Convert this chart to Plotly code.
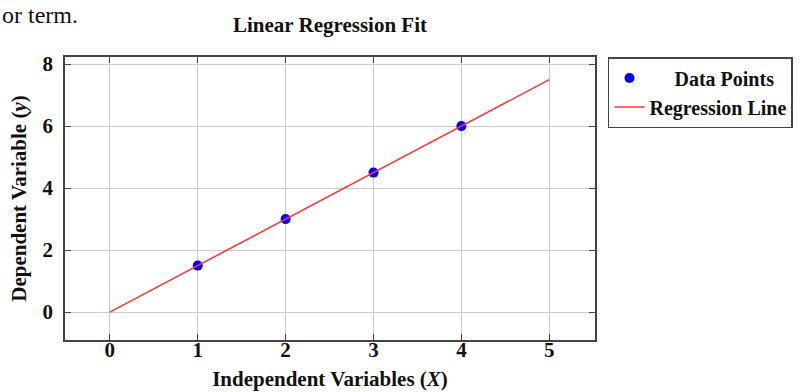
import plotly.graph_objects as go

x_points = [1, 2, 3, 4]
y_points = [1.5, 3.0, 4.5, 6.0]
x_line = [0, 5]
y_line = [0.0, 7.5]
x_ticks = [0, 1, 2, 3, 4, 5]
y_ticks = [0, 2, 4, 6, 8]

FONT = "Liberation Serif, Times New Roman, serif"
FS = 21

fig = go.Figure()
fig.add_trace(go.Scatter(
    x=x_points, y=y_points, mode="markers",
    name="&nbsp;&nbsp;&nbsp;&nbsp;&nbsp;<b>Data Points</b>",
    marker=dict(color="#0000ff", size=10, symbol="circle"),
))
fig.add_trace(go.Scatter(
    x=x_line, y=y_line, mode="lines", name="<b>Regression Line</b>",
    line=dict(color="#ff3333", width=1.5),
))

axis_common = dict(
    showgrid=True, gridcolor="#cccccc", gridwidth=1,
    showline=True, linecolor="#444444", linewidth=1.5, mirror="ticks",
    ticks="inside", ticklen=6, tickcolor="#444444", tickwidth=1,
    zeroline=False, automargin=False,
    tickfont=dict(family=FONT, size=FS, color="#111111", weight="bold"),
)

fig.update_layout(
    width=809, height=392,
    margin=dict(l=65, r=214, t=57, b=52),
    paper_bgcolor="white", plot_bgcolor="white",
    title=dict(text="<b>Linear Regression Fit</b>", x=(65 + 595) / 2 / 809, xanchor="center",
               y=1 - 25 / 392, yanchor="middle",
               font=dict(family=FONT, size=FS, color="#111111")),
    xaxis=dict(range=[-0.51, 5.52], tickvals=x_ticks, ticklabelstandoff=-10,
               title=dict(text="<b>Independent Variables (<i>X</i>)</b>", standoff=10,
                          font=dict(family=FONT, size=FS, color="#111111")),
               **axis_common),
    yaxis=dict(range=[-0.9, 8.23], tickvals=y_ticks, ticklabelstandoff=6,
               title=dict(text="<b>Dependent Variable (<i>y</i>)</b>", standoff=10,
                          font=dict(family=FONT, size=FS, color="#111111")),
               **axis_common),
    legend=dict(x=1.0245, y=1.0, xanchor="left", yanchor="top",
                bordercolor="#444444", borderwidth=1.5, bgcolor="white",
                font=dict(family=FONT, size=20, color="#111111"),
                itemwidth=30, tracegroupgap=0),
    showlegend=True,
)

fig.add_annotation(text="or term.", xref="paper", yref="paper",
                   x=-65 / 530, y=1 + 57 / 283, xanchor="left", yanchor="top",
                   showarrow=False, font=dict(family=FONT, size=24, color="#111111"))

fig.write_html("out.html")
